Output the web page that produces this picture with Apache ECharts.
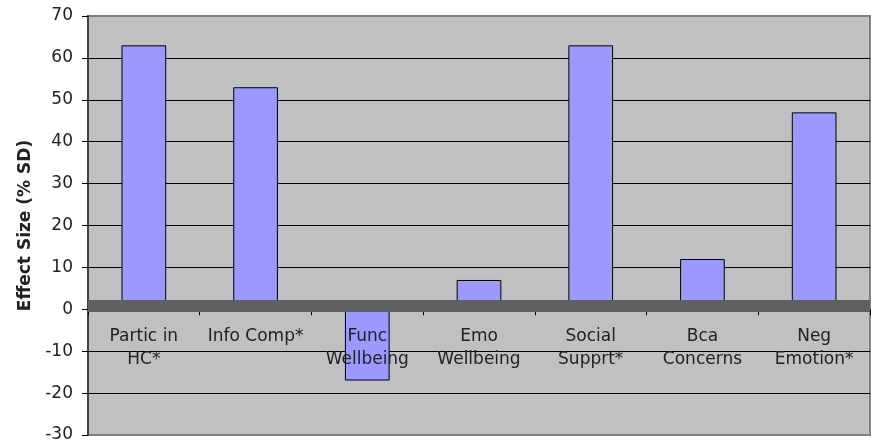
<!DOCTYPE html>
<html>
<head>
<meta charset="utf-8">
<script src="https://cdn.jsdelivr.net/npm/echarts@6/dist/echarts.min.js"></script>
<style>html,body{margin:0;padding:0;background:#fff;}#c{width:871px;height:443px;}</style>
</head>
<body>
<div id="c"></div>
<script>
const categories = ['Partic in\nHC*', 'Info Comp*', 'Func\nWellbeing', 'Emo\nWellbeing', 'Social\nSupprt*', 'Bca\nConcerns', 'Neg\nEmotion*'];
const effectSize = [63, 53, -17, 7, 63, 12, 47];
const yMin = -30, yMax = 70, yStep = 10;
const yAxisName = 'Effect Size (% SD)';

const gridTop = 16, gridBottom = 8, chartH = 443;
const plotH = chartH - gridTop - gridBottom;
const zeroOffset = -plotH * (0 - yMin) / (yMax - yMin);

const chart = echarts.init(document.getElementById('c'), null, {renderer: 'canvas'});
const font = 'DejaVu Sans';
chart.setOption({
  animation: false,
  backgroundColor: '#ffffff',
  grid: {left: 88, top: gridTop, right: 1, bottom: gridBottom, containLabel: false, outerBoundsMode: 'none', show: true, backgroundColor: '#C0C0C0', borderColor: '#808080', borderWidth: 2},
  xAxis: {
    type: 'category',
    data: categories,
    position: 'bottom',
    offset: zeroOffset,
    z: 4,
    axisLine: {show: true, onZero: false, lineStyle: {color: '#606060', width: 1}},
    axisTick: {show: true, length: 6, lineStyle: {color: '#000', width: 1}},
    axisLabel: {fontFamily: font, fontSize: 17, color: '#222', lineHeight: 23, margin: 16, interval: 0}
  },
  yAxis: {
    type: 'value',
    min: yMin, max: yMax, interval: yStep,
    name: yAxisName,
    nameLocation: 'middle',
    nameGap: 53,
    nameTextStyle: {fontFamily: font, fontSize: 17, fontWeight: 'bold', color: '#222'},
    axisLine: {show: true, onZero: false, lineStyle: {color: '#404040', width: 2}},
    axisTick: {show: true, length: 6, lineStyle: {color: '#000', width: 1}},
    axisLabel: {fontFamily: font, fontSize: 17, color: '#222', margin: 15},
    splitLine: {show: true, showMinLine: false, showMaxLine: false, lineStyle: {color: '#000', width: 1}}
  },
  series: [{
    type: 'bar',
    data: effectSize,
    barWidth: '40%',
    itemStyle: {color: '#9999FF', borderColor: '#000', borderWidth: 1},
    markLine: {
      silent: true,
      symbol: 'none',
      label: {show: false},
      lineStyle: {color: '#606060', width: 12, type: 'solid'},
      data: [{yAxis: 0.82}]
    }
  }]
});
</script>
</body>
</html>
